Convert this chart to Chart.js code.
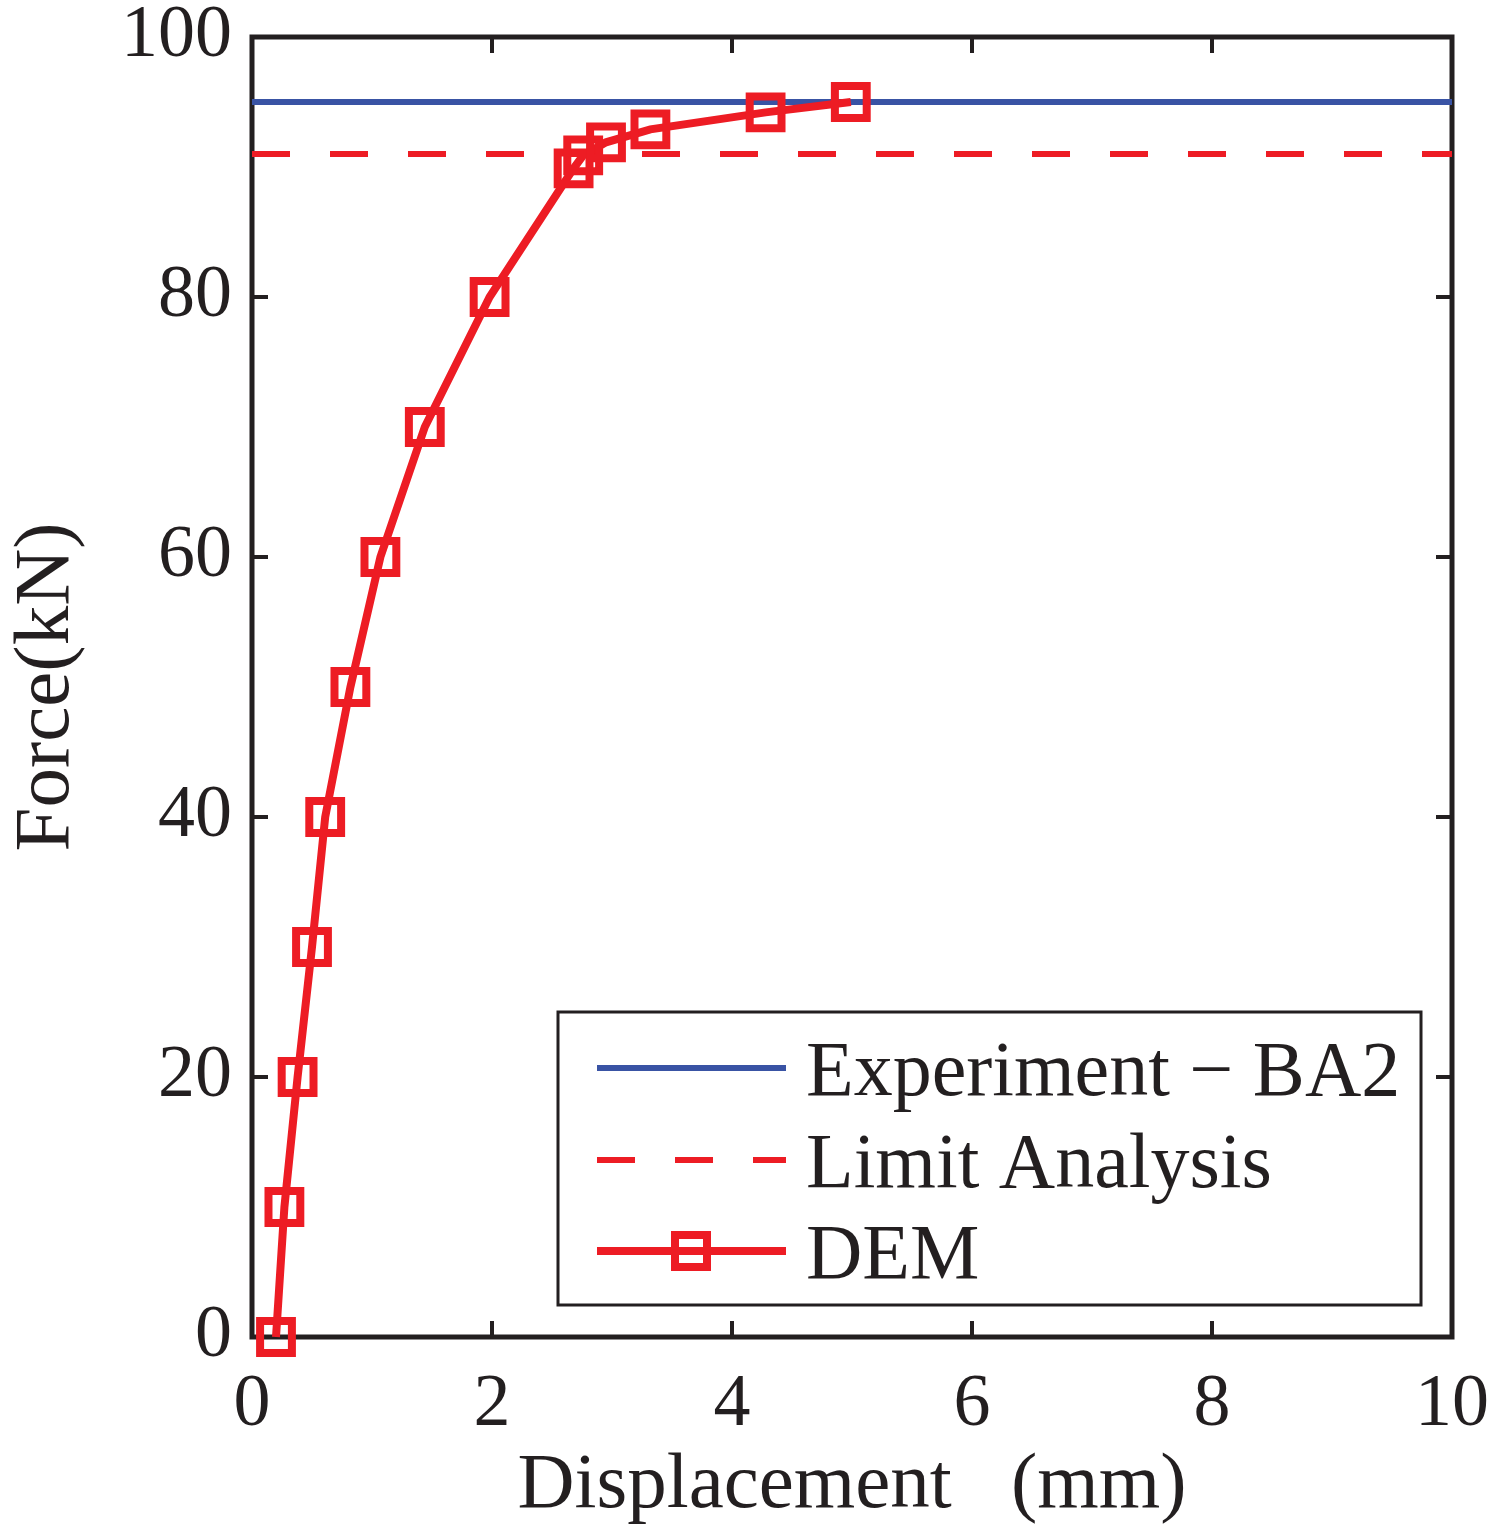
<!DOCTYPE html>
<html>
<head>
<meta charset="utf-8">
<script src="https://cdn.jsdelivr.net/npm/chart.js@4.4.1/dist/chart.umd.min.js"></script>
<style>
  html, body { margin: 0; padding: 0; background: #fff; }
  #wrap { width: 1510px; height: 1526px; }
</style>
</head>
<body>
<div id="wrap"><canvas id="myChart" width="1510" height="1526"></canvas></div>
<script>
// DEM force-displacement curve
const demDisp = [0.2, 0.27, 0.38, 0.5, 0.61, 0.82, 1.07, 1.44, 1.98, 2.68, 2.76, 2.95, 3.32, 4.28, 4.99];
const demForce = [0, 10, 20, 30, 40, 50, 60, 70, 80, 89.9, 90.9, 91.9, 92.9, 94.2, 95.0];
// horizontal reference levels
const experimentForce = 95.0;
const limitForce = 91.0;
const xRange = [0, 10];
const xTicks = [0, 2, 4, 6, 8, 10];
const yTicks = [0, 20, 40, 60, 80, 100];
const legendLabels = ['Experiment \u2212 BA2', 'Limit Analysis', 'DEM'];

const red = '#ED1C24';
const blue = '#3953A4';
const ink = '#231F20';
const serif = '"Liberation Serif", "Times New Roman", serif';

const data = {
  datasets: [
    {
      label: legendLabels[2],
      data: demDisp.map((x, i) => ({ x: x, y: demForce[i] })),
      borderColor: red,
      borderWidth: 8,
      pointStyle: 'rect',
      pointRadius: 22.5,
      pointBorderWidth: 8,
      pointBackgroundColor: 'rgba(0,0,0,0)',
      pointBorderColor: red,
      showLine: true,
      clip: false,
      order: 0
    },
    {
      label: legendLabels[1],
      data: xRange.map(x => ({ x: x, y: limitForce })),
      borderColor: red,
      borderWidth: 6,
      borderDash: [38, 40],
      pointRadius: 0,
      showLine: true,
      order: 1
    },
    {
      label: legendLabels[0],
      data: xRange.map(x => ({ x: x, y: experimentForce })),
      borderColor: blue,
      borderWidth: 6,
      pointRadius: 0,
      showLine: true,
      order: 2
    }
  ]
};

// axes box with inward ticks, plus the legend box
const frame = {
  id: 'frame',
  beforeDatasetsDraw(chart) {
    const ctx = chart.ctx;
    const a = chart.chartArea;
    const xs = chart.scales.x, ys = chart.scales.y;
    const tl = 16;
    ctx.save();
    ctx.strokeStyle = ink;
    ctx.lineWidth = 4;
    ctx.beginPath();
    xTicks.forEach(t => {
      const px = xs.getPixelForValue(t);
      ctx.moveTo(px, a.bottom); ctx.lineTo(px, a.bottom - tl);
      ctx.moveTo(px, a.top); ctx.lineTo(px, a.top + tl);
    });
    yTicks.forEach(t => {
      const py = ys.getPixelForValue(t);
      ctx.moveTo(a.left, py); ctx.lineTo(a.left + tl, py);
      ctx.moveTo(a.right, py); ctx.lineTo(a.right - tl, py);
    });
    ctx.stroke();
    ctx.lineWidth = 5;
    ctx.strokeRect(a.left, a.top, a.right - a.left, a.bottom - a.top);
    ctx.restore();
  },
  afterDraw(chart) {
    const ctx = chart.ctx;
    ctx.save();
    // legend
    const lx = 558, ly = 1012, lw = 863, lh = 293;
    ctx.fillStyle = '#fff';
    ctx.fillRect(lx, ly, lw, lh);
    ctx.strokeStyle = ink;
    ctx.lineWidth = 3;
    ctx.strokeRect(lx, ly, lw, lh);
    const rows = [1068, 1160, 1251];
    const x0 = 597, x1 = 786;
    ctx.lineCap = 'butt';
    // experiment
    ctx.strokeStyle = blue; ctx.lineWidth = 6;
    ctx.beginPath(); ctx.moveTo(x0, rows[0]); ctx.lineTo(x1, rows[0]); ctx.stroke();
    // limit
    ctx.strokeStyle = red; ctx.setLineDash([38, 40]);
    ctx.beginPath(); ctx.moveTo(x0, rows[1]); ctx.lineTo(x1, rows[1]); ctx.stroke();
    ctx.setLineDash([]);
    // DEM
    ctx.lineWidth = 8;
    ctx.beginPath(); ctx.moveTo(x0, rows[2]); ctx.lineTo(x1, rows[2]); ctx.stroke();
    ctx.strokeRect(691 - 16, rows[2] - 16, 32, 32);

    ctx.fillStyle = ink;
    ctx.font = '78px ' + serif;
    ctx.textAlign = 'left';
    ctx.textBaseline = 'alphabetic';
    rows.forEach((r, i) => ctx.fillText(legendLabels[i], 806, r + 27));
    ctx.restore();
  }
};

const config = {
  type: 'scatter',
  data: data,
  options: {
    responsive: false,
    animation: false,
    layout: { padding: { top: 37, right: 58, left: 0, bottom: 0 } },
    plugins: {
      legend: { display: false },
      tooltip: { enabled: false }
    },
    scales: {
      x: {
        type: 'linear',
        min: 0, max: 10,
        afterBuildTicks: s => { s.ticks = xTicks.map(v => ({ value: v })); },
        afterFit: s => { s.height = 189; s.paddingLeft = 0; s.paddingRight = 0; },
        grid: { display: false },
        border: { display: false },
        ticks: {
          color: ink,
          font: { family: serif, size: 74 },
          padding: 16,
          maxRotation: 0
        },
        title: {
          display: true,
          text: 'Displacement   (mm)',
          color: ink,
          font: { family: serif, size: 79 },
          padding: { top: 0, bottom: -8 }
        }
      },
      y: {
        type: 'linear',
        min: 0, max: 100,
        afterBuildTicks: s => { s.ticks = yTicks.map(v => ({ value: v })); },
        afterFit: s => { s.width = 252; },
        grid: { display: false },
        border: { display: false },
        ticks: {
          color: ink,
          font: { family: serif, size: 74, lineHeight: 0.4 },
          padding: 12
        },
        title: {
          display: true,
          text: 'Force(kN)',
          color: ink,
          font: { family: serif, size: 79 },
          padding: { top: 0, bottom: 0 }
        }
      }
    }
  },
  plugins: [frame]
};

const ctx = document.getElementById('myChart');
const myChart = new Chart(ctx, config);
</script>
</body>
</html>
